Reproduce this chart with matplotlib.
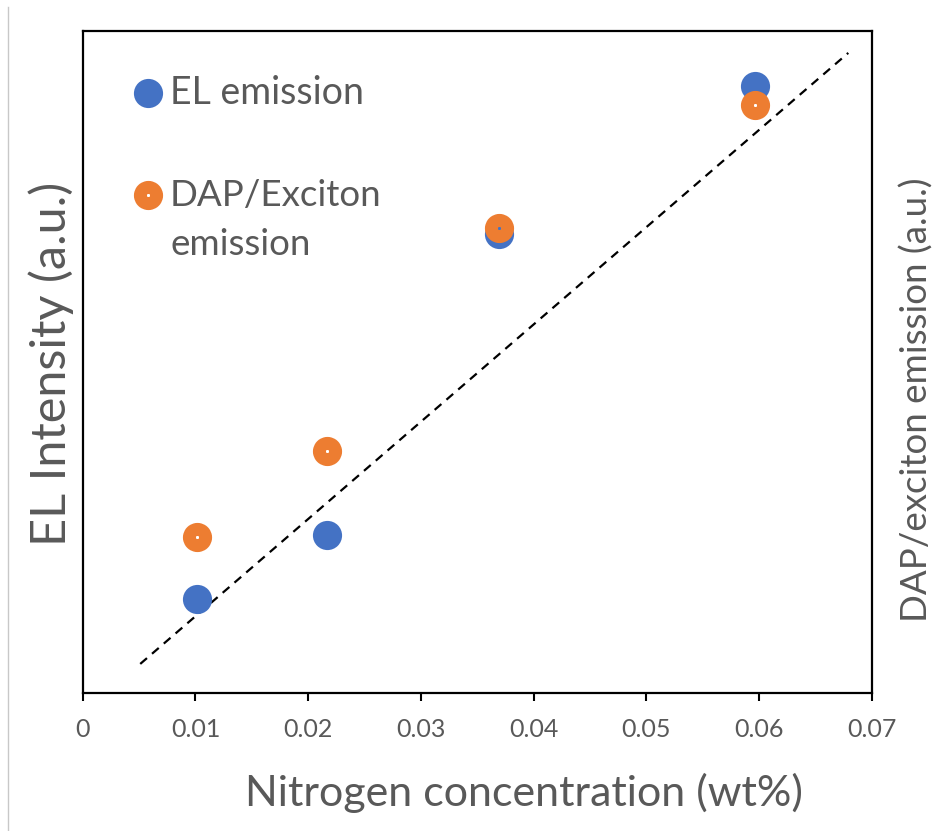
import numpy as np
import matplotlib
matplotlib.use('Agg')
import matplotlib.pyplot as plt
from matplotlib.lines import Line2D

# nitrogen concentration (wt%)
nitrogen = [0.0101, 0.0217, 0.0369, 0.0596]
# EL intensity (a.u., normalised to the axis height)
el_intensity = [0.142, 0.239, 0.693, 0.917]
# DAP/exciton emission (a.u.)
dap_emission = [0.236, 0.366, 0.702, 0.888]
# dashed guide line end points
trend_x = [0.0051, 0.0679]
trend_y = [0.044, 0.967]

x_ticks = [0, 0.01, 0.02, 0.03, 0.04, 0.05, 0.06, 0.07]
x_tick_labels = ['0', '0.01', '0.02', '0.03', '0.04', '0.05', '0.06', '0.07']

blue = '#4472C4'
orange = '#ED7D31'
grey = '#595959'

plt.rcParams['font.family'] = ['Lato', 'DejaVu Sans']

fig = plt.figure(figsize=(9.38, 8.31), dpi=100)
ax = fig.add_axes([0.0882, 0.166, 0.8414, 0.7966])

ax.plot(trend_x, trend_y, color='black', linestyle=(0, (4, 3)), linewidth=1.6, zorder=2)
ax.plot(nitrogen, el_intensity, linestyle='none', marker='o', markersize=21,
        markerfacecolor=blue, markeredgecolor='none', zorder=3)
# orange marker is a ring with a tiny hole in the middle
ax.plot(nitrogen, dap_emission, linestyle='none', marker='o', markersize=11.8,
        markerfacecolor='none', markeredgecolor=orange, markeredgewidth=9.2, zorder=4)

ax.set_xlim(0, 0.07)
ax.set_ylim(0, 1)
ax.set_xticks(x_ticks)
ax.set_xticklabels(x_tick_labels)
ax.set_yticks([])
ax.tick_params(axis='x', direction='out', length=6, width=1.5, colors='black',
               labelcolor=grey, labelsize=18, pad=12)
for side in ['left', 'right', 'top', 'bottom']:
    ax.spines[side].set_linewidth(1.6)
    ax.spines[side].set_color('black')

# axis titles
fig.text(0.5586, 0.0457, 'Nitrogen concentration (wt%)', fontsize=31, color=grey,
         ha='center', va='center')
fig.text(0.0544, 0.562, 'EL Intensity (a.u.)', rotation=90, fontsize=35, color=grey,
         ha='center', va='center')
fig.text(0.9776, 0.5187, 'DAP/exciton emission (a.u.)', rotation=90, fontsize=26.5,
         color=grey, ha='center', va='center')

# legend drawn by hand so the marker sits on the first line of the label
ax.plot([0.0827], [0.906], transform=ax.transAxes, linestyle='none', marker='o',
        markersize=21, markerfacecolor=blue, markeredgecolor='none', clip_on=False)
ax.plot([0.0827], [0.752], transform=ax.transAxes, linestyle='none', marker='o',
        markersize=11.8, markerfacecolor='none', markeredgecolor=orange,
        markeredgewidth=9.2, clip_on=False)
ax.text(0.1106, 0.906, 'EL emission', transform=ax.transAxes, fontsize=27,
        color=grey, va='center', ha='left')
ax.text(0.1106, 0.752, 'DAP/Exciton', transform=ax.transAxes, fontsize=26.5,
        color=grey, va='center', ha='left')
ax.text(0.1106, 0.677, 'emission', transform=ax.transAxes, fontsize=26.5,
        color=grey, va='center', ha='left')

# thin page border on the far left
fig.add_artist(Line2D([0.0085, 0.0085], [0.0, 0.992], color='#c8c8c8', linewidth=1))

fig.savefig('out.png', dpi=100)
